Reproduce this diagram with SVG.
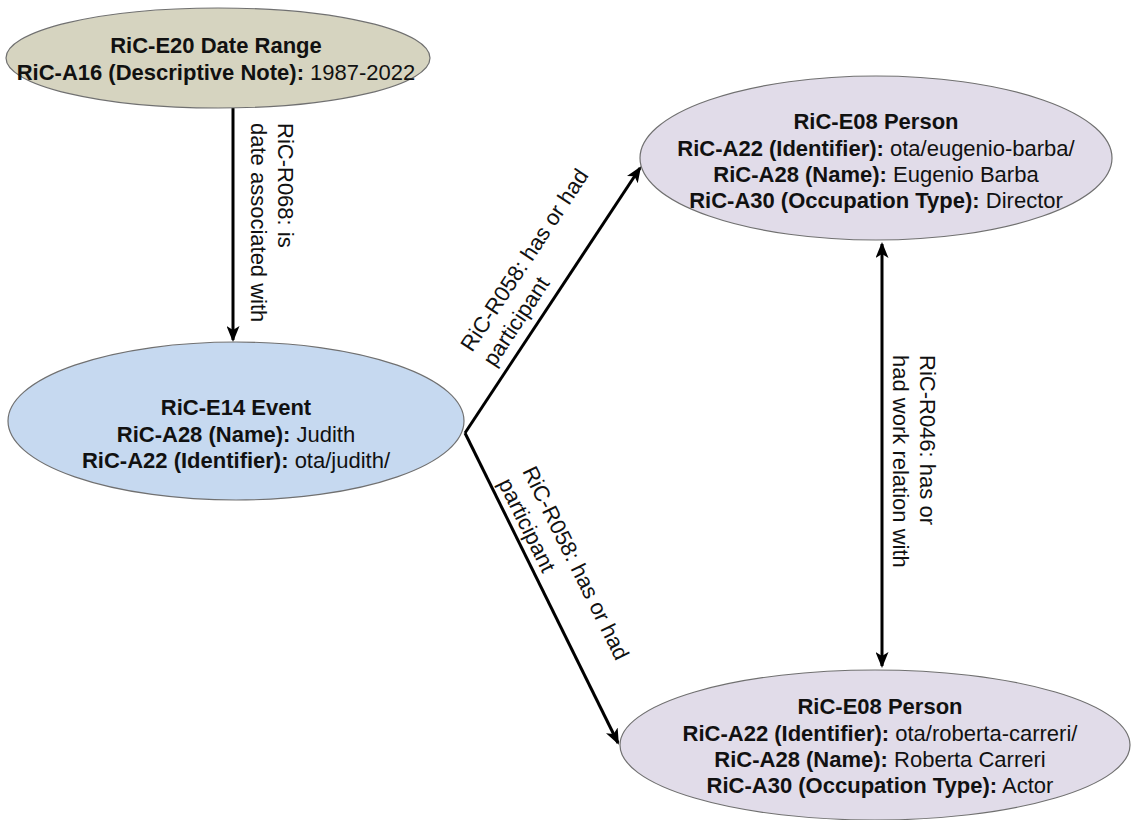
<svg xmlns="http://www.w3.org/2000/svg" width="1135" height="820" viewBox="0 0 1135 820">
<defs>
<style>
.node{stroke:#707070;stroke-width:1.2}
.t{font-family:"Liberation Sans",Arial,Helvetica,sans-serif;font-size:22px;fill:#111;text-anchor:middle}
.b{font-weight:bold}
.lbl{font-family:"Liberation Sans",Arial,Helvetica,sans-serif;font-size:22px;fill:#111}
.edge{stroke:#000;stroke-width:3;fill:none}
</style>
<marker id="ah" viewBox="0 0 16 13" refX="14" refY="6.5" markerWidth="16" markerHeight="13" markerUnits="userSpaceOnUse" orient="auto-start-reverse">
<path d="M0,0 L16,6.5 L0,13 L4,6.5 z" fill="#000"/>
</marker>
</defs>
<rect width="1135" height="820" fill="#fff"/>
<g id="connectors">
<line class="edge" x1="233" y1="108" x2="233" y2="340" marker-end="url(#ah)"/>
<line class="edge" x1="465" y1="433" x2="640" y2="168" marker-end="url(#ah)"/>
<line class="edge" x1="465" y1="433" x2="618" y2="743" marker-end="url(#ah)"/>
<line class="edge" x1="882" y1="244" x2="882" y2="666" marker-start="url(#ah)" marker-end="url(#ah)"/>
<text class="lbl" transform="translate(278,123) rotate(90)"><tspan x="0" y="0">RiC-R068: is</tspan><tspan x="0" y="27">date associated with</tspan></text>
<text class="lbl" transform="translate(472,353) rotate(-56.6)"><tspan x="0" y="0">RiC-R058: has or had</tspan><tspan x="0" y="27">participant</tspan></text>
<text class="lbl" transform="translate(522,471) rotate(63.7)"><tspan x="0" y="0">RiC-R058: has or had</tspan><tspan x="0" y="27">participant</tspan></text>
<text class="lbl" transform="translate(920,355) rotate(90)"><tspan x="0" y="0">RiC-R046: has or</tspan><tspan x="0" y="27">had work relation with</tspan></text>
</g>
<g id="date-range">
<ellipse class="node" cx="218" cy="58" rx="212" ry="50" fill="#d6d4c0"/>
<text class="t"><tspan x="216" y="53" class="b">RiC-E20 Date Range</tspan><tspan x="216" y="80"><tspan class="b">RiC-A16 (Descriptive Note):</tspan> 1987-2022</tspan></text>
</g>
<g id="event">
<ellipse class="node" cx="236" cy="421" rx="228" ry="79" fill="#c6d9f0"/>
<text class="t"><tspan x="236" y="415" class="b">RiC-E14 Event</tspan><tspan x="236" y="442"><tspan class="b">RiC-A28 (Name):</tspan> Judith</tspan><tspan x="236" y="468"><tspan class="b">RiC-A22 (Identifier):</tspan> ota/judith/</tspan></text>
</g>
<g id="person-barba">
<ellipse class="node" cx="876" cy="158" rx="236" ry="82" fill="#e1dce9"/>
<text class="t"><tspan x="876" y="129" class="b">RiC-E08 Person</tspan><tspan x="876" y="155.5"><tspan class="b">RiC-A22 (Identifier):</tspan> ota/eugenio-barba/</tspan><tspan x="876" y="182"><tspan class="b">RiC-A28 (Name):</tspan> Eugenio Barba</tspan><tspan x="876" y="208"><tspan class="b">RiC-A30 (Occupation Type):</tspan> Director</tspan></text>
</g>
<g id="person-carreri">
<ellipse class="node" cx="875" cy="745" rx="255" ry="75" fill="#e1dce9"/>
<text class="t"><tspan x="880" y="714" class="b">RiC-E08 Person</tspan><tspan x="880" y="740.5"><tspan class="b">RiC-A22 (Identifier):</tspan> ota/roberta-carreri/</tspan><tspan x="880" y="767"><tspan class="b">RiC-A28 (Name):</tspan> Roberta Carreri</tspan><tspan x="880" y="793"><tspan class="b">RiC-A30 (Occupation Type):</tspan> Actor</tspan></text>
</g>
</svg>
